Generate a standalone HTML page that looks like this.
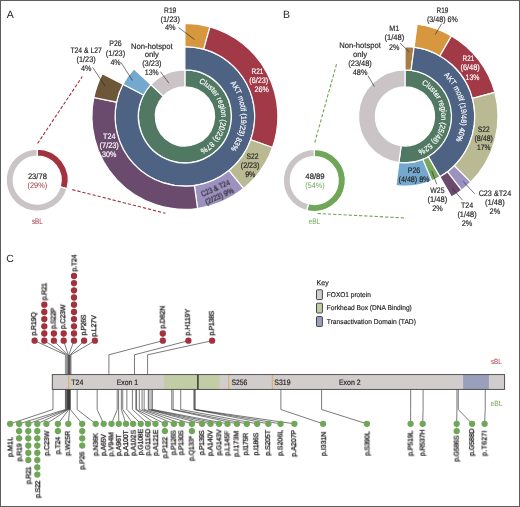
<!DOCTYPE html>
<html><head><meta charset="utf-8"><style>
html,body{margin:0;padding:0;background:#fff;}
body{width:520px;height:507px;overflow:hidden;}
svg{display:block;font-family:"Liberation Sans", sans-serif;-webkit-font-smoothing:antialiased;text-rendering:geometricPrecision;}
text{will-change:transform;}
</style></head><body>
<svg width="520" height="507" viewBox="0 0 520 507">
<rect x="0" y="0" width="520" height="507" fill="#fff"/>
<path d="M184.90,69.90 A46.5,46.5 0 1 1 150.92,84.66 L163.27,96.20 A29.6,29.6 0 1 0 184.90,86.80 Z" fill="#517863" stroke="#fff" stroke-width="1.2" stroke-linejoin="miter"/>
<path d="M150.92,84.66 A46.5,46.5 0 0 1 184.90,69.90 L184.90,86.80 A29.6,29.6 0 0 0 163.27,96.20 Z" fill="#cac4c7" stroke="#fff" stroke-width="1.2" stroke-linejoin="miter"/>
<path d="M184.90,46.60 A69.8,69.8 0 1 1 122.93,84.29 L143.61,95.01 A46.5,46.5 0 1 0 184.90,69.90 Z" fill="#4e6283" stroke="#fff" stroke-width="1.2" stroke-linejoin="miter"/>
<path d="M122.93,84.29 A69.8,69.8 0 0 1 133.89,68.76 L150.92,84.66 A46.5,46.5 0 0 0 143.61,95.01 Z" fill="#74a8cf" stroke="#fff" stroke-width="1.2" stroke-linejoin="miter"/>
<path d="M184.90,23.40 A93.0,93.0 0 0 1 209.99,26.85 L203.73,49.19 A69.8,69.8 0 0 0 184.90,46.60 Z" fill="#d6973e" stroke="#fff" stroke-width="1.2" stroke-linejoin="miter"/>
<path d="M209.99,26.85 A93.0,93.0 0 0 1 272.53,147.54 L250.67,139.77 A69.8,69.8 0 0 0 203.73,49.19 Z" fill="#a23946" stroke="#fff" stroke-width="1.2" stroke-linejoin="miter"/>
<path d="M272.53,147.54 A93.0,93.0 0 0 1 243.59,188.54 L228.95,170.54 A69.8,69.8 0 0 0 250.67,139.77 Z" fill="#b9ba93" stroke="#fff" stroke-width="1.2" stroke-linejoin="miter"/>
<path d="M243.59,188.54 A93.0,93.0 0 0 1 197.56,208.53 L194.40,185.55 A69.8,69.8 0 0 0 228.95,170.54 Z" fill="#9c92bf" stroke="#fff" stroke-width="1.2" stroke-linejoin="miter"/>
<path d="M197.56,208.53 A93.0,93.0 0 0 1 93.85,97.48 L116.56,102.20 A69.8,69.8 0 0 0 194.40,185.55 Z" fill="#6b4b6d" stroke="#fff" stroke-width="1.2" stroke-linejoin="miter"/>
<path d="M93.85,97.48 A93.0,93.0 0 0 1 102.33,73.61 L122.93,84.29 A69.8,69.8 0 0 0 116.56,102.20 Z" fill="#6e5738" stroke="#fff" stroke-width="1.2" stroke-linejoin="miter"/>
<path id="aA" d="M129.415,106.856 A56.3,56.3 0 0 1 189.572,60.294 A56.3,56.3 0 0 1 241.200,116.164 A56.3,56.3 0 0 1 190.042,172.465 A56.3,56.3 0 0 1 129.497,126.409" fill="none"/>
<text font-size="7.8" fill="#fff" stroke="#fff" stroke-width="0.18"><textPath href="#aA" startOffset="50%" text-anchor="middle" textLength="70.7" lengthAdjust="spacingAndGlyphs">AKT motif (19/23) 83%</textPath></text>
<path id="cA" d="M149.033,110.809 A36.3,36.3 0 0 1 187.344,80.182 A36.3,36.3 0 0 1 221.193,115.678 A36.3,36.3 0 0 1 188.783,152.492 A36.3,36.3 0 0 1 149.284,123.413" fill="none"/>
<text font-size="7.8" fill="#fff" stroke="#fff" stroke-width="0.18"><textPath href="#cA" startOffset="50%" text-anchor="middle" textLength="83.9" lengthAdjust="spacingAndGlyphs">Cluster region (20/23) 87%</textPath></text>
<text transform="translate(10.20,18.30)" font-size="10.5" fill="#231f20" stroke="#231f20" stroke-width="0" text-anchor="middle" font-weight="normal">A</text>
<text transform="translate(170.20,12.70)" font-size="8.0" fill="#231f20" stroke="#231f20" stroke-width="0.18" text-anchor="middle" font-weight="normal" textLength="12.3" lengthAdjust="spacingAndGlyphs">R19</text>
<text transform="translate(170.20,21.55)" font-size="8.0" fill="#231f20" stroke="#231f20" stroke-width="0.18" text-anchor="middle" font-weight="normal" textLength="19.5" lengthAdjust="spacingAndGlyphs">(1/23)</text>
<text transform="translate(170.20,30.40)" font-size="8.0" fill="#231f20" stroke="#231f20" stroke-width="0.18" text-anchor="middle" font-weight="normal" textLength="10.6" lengthAdjust="spacingAndGlyphs">4%</text>
<line x1="178.50" y1="27.50" x2="194.50" y2="39.50" stroke="#231f20" stroke-width="0.6"/>
<text transform="translate(86.10,52.50)" font-size="8.0" fill="#231f20" stroke="#231f20" stroke-width="0.18" text-anchor="middle" font-weight="normal" textLength="31.4" lengthAdjust="spacingAndGlyphs">T24 &amp; L27</text>
<text transform="translate(86.10,61.60)" font-size="8.0" fill="#231f20" stroke="#231f20" stroke-width="0.18" text-anchor="middle" font-weight="normal" textLength="19.1" lengthAdjust="spacingAndGlyphs">(1/23)</text>
<text transform="translate(86.10,70.70)" font-size="8.0" fill="#231f20" stroke="#231f20" stroke-width="0.18" text-anchor="middle" font-weight="normal" textLength="10.4" lengthAdjust="spacingAndGlyphs">4%</text>
<line x1="92.60" y1="67.30" x2="105.00" y2="86.00" stroke="#231f20" stroke-width="0.6"/>
<text transform="translate(115.50,46.40)" font-size="8.0" fill="#231f20" stroke="#231f20" stroke-width="0.18" text-anchor="middle" font-weight="normal" textLength="12.3" lengthAdjust="spacingAndGlyphs">P26</text>
<text transform="translate(115.50,55.50)" font-size="8.0" fill="#231f20" stroke="#231f20" stroke-width="0.18" text-anchor="middle" font-weight="normal" textLength="19.3" lengthAdjust="spacingAndGlyphs">(1/23)</text>
<text transform="translate(115.50,64.60)" font-size="8.0" fill="#231f20" stroke="#231f20" stroke-width="0.18" text-anchor="middle" font-weight="normal" textLength="10.2" lengthAdjust="spacingAndGlyphs">4%</text>
<line x1="121.10" y1="62.60" x2="132.50" y2="80.50" stroke="#231f20" stroke-width="0.6"/>
<text transform="translate(151.80,48.50)" font-size="8.0" fill="#231f20" stroke="#231f20" stroke-width="0.18" text-anchor="middle" font-weight="normal" textLength="41.8" lengthAdjust="spacingAndGlyphs">Non-hotspot</text>
<text transform="translate(151.80,57.45)" font-size="8.0" fill="#231f20" stroke="#231f20" stroke-width="0.18" text-anchor="middle" font-weight="normal" textLength="14.2" lengthAdjust="spacingAndGlyphs">only</text>
<text transform="translate(151.80,66.40)" font-size="8.0" fill="#231f20" stroke="#231f20" stroke-width="0.18" text-anchor="middle" font-weight="normal" textLength="19.3" lengthAdjust="spacingAndGlyphs">(3/23)</text>
<text transform="translate(151.80,75.35)" font-size="8.0" fill="#231f20" stroke="#231f20" stroke-width="0.18" text-anchor="middle" font-weight="normal" textLength="13.9" lengthAdjust="spacingAndGlyphs">13%</text>
<line x1="160.30" y1="71.60" x2="168.90" y2="83.20" stroke="#231f20" stroke-width="0.6"/>
<text transform="translate(257.50,73.70)" font-size="8.0" fill="#fff" stroke="#fff" stroke-width="0.18" text-anchor="middle" font-weight="normal" textLength="11.8" lengthAdjust="spacingAndGlyphs">R21</text>
<text transform="translate(258.80,82.90)" font-size="8.0" fill="#fff" stroke="#fff" stroke-width="0.18" text-anchor="middle" font-weight="normal" textLength="18.9" lengthAdjust="spacingAndGlyphs">(6/23)</text>
<text transform="translate(261.60,92.30)" font-size="8.0" fill="#fff" stroke="#fff" stroke-width="0.18" text-anchor="middle" font-weight="normal" textLength="14.3" lengthAdjust="spacingAndGlyphs">26%</text>
<text transform="translate(252.50,158.80)" font-size="8.0" fill="#231f20" stroke="#231f20" stroke-width="0.18" text-anchor="middle" font-weight="normal" textLength="11.9" lengthAdjust="spacingAndGlyphs">S22</text>
<text transform="translate(250.10,168.00)" font-size="8.0" fill="#231f20" stroke="#231f20" stroke-width="0.18" text-anchor="middle" font-weight="normal" textLength="18.6" lengthAdjust="spacingAndGlyphs">(2/23)</text>
<text transform="translate(250.30,177.30)" font-size="8.0" fill="#231f20" stroke="#231f20" stroke-width="0.18" text-anchor="middle" font-weight="normal" textLength="10.3" lengthAdjust="spacingAndGlyphs">9%</text>
<text transform="translate(109.20,138.70)" font-size="8.0" fill="#fff" stroke="#fff" stroke-width="0.18" text-anchor="middle" font-weight="normal" textLength="12.3" lengthAdjust="spacingAndGlyphs">T24</text>
<text transform="translate(109.20,147.90)" font-size="8.0" fill="#fff" stroke="#fff" stroke-width="0.18" text-anchor="middle" font-weight="normal" textLength="19.2" lengthAdjust="spacingAndGlyphs">(7/23)</text>
<text transform="translate(109.20,157.30)" font-size="8.0" fill="#fff" stroke="#fff" stroke-width="0.18" text-anchor="middle" font-weight="normal" textLength="14.3" lengthAdjust="spacingAndGlyphs">30%</text>
<text transform="translate(216.50,190.80) rotate(-24)" font-size="8.0" fill="#231f20" stroke="#231f20" stroke-width="0.18" text-anchor="middle" font-weight="normal" textLength="30.5" lengthAdjust="spacingAndGlyphs">C23 &amp; T24</text>
<text transform="translate(220.60,198.60) rotate(-24)" font-size="8.0" fill="#231f20" stroke="#231f20" stroke-width="0.18" text-anchor="middle" font-weight="normal" textLength="30.7" lengthAdjust="spacingAndGlyphs">(2/23) 9%</text>
<path d="M37.20,149.03 A31.075,31.075 0 0 1 67.05,188.75 L60.18,186.76 A23.925,23.925 0 0 0 37.20,156.17 Z" fill="#a3323f" stroke="#fff" stroke-width="1.3" stroke-linejoin="miter"/>
<path d="M67.05,188.75 A31.075,31.075 0 1 1 37.20,149.03 L37.20,156.17 A23.925,23.925 0 1 0 60.18,186.76 Z" fill="#cac4c7" stroke="#fff" stroke-width="1.3" stroke-linejoin="miter"/>
<text transform="translate(37.40,179.20)" font-size="8.0" fill="#231f20" stroke="#231f20" stroke-width="0.18" text-anchor="middle" font-weight="normal" textLength="19.0" lengthAdjust="spacingAndGlyphs">23/78</text>
<text transform="translate(37.40,188.00)" font-size="8.0" fill="#a3323f" stroke="#a3323f" stroke-width="0.0" text-anchor="middle" font-weight="normal" textLength="19.7" lengthAdjust="spacingAndGlyphs">(29%)</text>
<text transform="translate(37.30,224.00)" font-size="8.0" fill="#a3323f" stroke="#a3323f" stroke-width="0.0" text-anchor="middle" font-weight="normal" textLength="10.8" lengthAdjust="spacingAndGlyphs">sBL</text>
<line x1="37.60" y1="143.50" x2="82.30" y2="76.50" stroke="#a3323f" stroke-width="1.1" stroke-dasharray="3.3,1.9"/>
<line x1="72.30" y1="189.60" x2="165.50" y2="213.30" stroke="#a3323f" stroke-width="1.1" stroke-dasharray="3.3,1.9"/>
<path d="M405.00,69.90 A46.5,46.5 0 1 1 398.93,162.50 L401.14,145.75 A29.6,29.6 0 1 0 405.00,86.80 Z" fill="#517863" stroke="#fff" stroke-width="1.2" stroke-linejoin="miter"/>
<path d="M398.93,162.50 A46.5,46.5 0 0 1 405.00,69.90 L405.00,86.80 A29.6,29.6 0 0 0 401.14,145.75 Z" fill="#cac4c7" stroke="#fff" stroke-width="1.2" stroke-linejoin="miter"/>
<path d="M405.00,46.60 A69.8,69.8 0 0 1 414.11,47.20 L411.07,70.30 A46.5,46.5 0 0 0 405.00,69.90 Z" fill="#a87c45" stroke="#fff" stroke-width="1.2" stroke-linejoin="miter"/>
<path d="M414.11,47.20 A69.8,69.8 0 0 1 439.90,176.85 L428.25,156.67 A46.5,46.5 0 0 0 411.07,70.30 Z" fill="#4e6283" stroke="#fff" stroke-width="1.2" stroke-linejoin="miter"/>
<path d="M439.90,176.85 A69.8,69.8 0 0 1 431.71,180.89 L422.79,159.36 A46.5,46.5 0 0 0 428.25,156.67 Z" fill="#76a75d" stroke="#fff" stroke-width="1.2" stroke-linejoin="miter"/>
<path d="M431.71,180.89 A69.8,69.8 0 0 1 395.89,185.60 L398.93,162.50 A46.5,46.5 0 0 0 422.79,159.36 Z" fill="#74a8cf" stroke="#fff" stroke-width="1.2" stroke-linejoin="miter"/>
<path d="M417.14,24.20 A93.0,93.0 0 0 1 451.50,35.86 L439.90,55.95 A69.8,69.8 0 0 0 414.11,47.20 Z" fill="#d6973e" stroke="#fff" stroke-width="1.2" stroke-linejoin="miter"/>
<path d="M451.50,35.86 A93.0,93.0 0 0 1 494.83,92.33 L472.42,98.33 A69.8,69.8 0 0 0 439.90,55.95 Z" fill="#a23946" stroke="#fff" stroke-width="1.2" stroke-linejoin="miter"/>
<path d="M494.83,92.33 A93.0,93.0 0 0 1 470.76,182.16 L454.36,165.76 A69.8,69.8 0 0 0 472.42,98.33 Z" fill="#b9ba93" stroke="#fff" stroke-width="1.2" stroke-linejoin="miter"/>
<path d="M470.76,182.16 A93.0,93.0 0 0 1 461.61,190.18 L447.49,171.78 A69.8,69.8 0 0 0 454.36,165.76 Z" fill="#9c92bf" stroke="#fff" stroke-width="1.2" stroke-linejoin="miter"/>
<path d="M461.61,190.18 A93.0,93.0 0 0 1 451.50,196.94 L439.90,176.85 A69.8,69.8 0 0 0 447.49,171.78 Z" fill="#6b4b6d" stroke="#fff" stroke-width="1.2" stroke-linejoin="miter"/>
<path id="aB" d="M348.704,117.098 A56.3,56.3 0 0 1 399.399,60.379 A56.3,56.3 0 0 1 460.319,105.937 A56.3,56.3 0 0 1 420.244,170.597 A56.3,56.3 0 0 1 352.338,136.310" fill="none"/>
<text font-size="7.8" fill="#fff" stroke="#fff" stroke-width="0.18"><textPath href="#aB" startOffset="50%" text-anchor="middle" textLength="70.7" lengthAdjust="spacingAndGlyphs">AKT motif (19/48) 40%</textPath></text>
<path id="cB" d="M369.646,108.166 A36.3,36.3 0 0 1 410.121,80.463 A36.3,36.3 0 0 1 441.247,118.369 A36.3,36.3 0 0 1 406.197,152.680 A36.3,36.3 0 0 1 368.962,120.755" fill="none"/>
<text font-size="7.8" fill="#fff" stroke="#fff" stroke-width="0.18"><textPath href="#cB" startOffset="50%" text-anchor="middle" textLength="83.5" lengthAdjust="spacingAndGlyphs">Cluster region (25/48) 52%</textPath></text>
<text transform="translate(286.60,18.30)" font-size="10.5" fill="#231f20" stroke="#231f20" stroke-width="0" text-anchor="middle" font-weight="normal">B</text>
<text transform="translate(442.40,12.70)" font-size="8.0" fill="#231f20" stroke="#231f20" stroke-width="0.18" text-anchor="middle" font-weight="normal" textLength="11.8" lengthAdjust="spacingAndGlyphs">R19</text>
<text transform="translate(442.40,21.80)" font-size="8.0" fill="#231f20" stroke="#231f20" stroke-width="0.18" text-anchor="middle" font-weight="normal" textLength="30.9" lengthAdjust="spacingAndGlyphs">(3/48) 6%</text>
<line x1="441.70" y1="23.60" x2="435.20" y2="34.50" stroke="#231f20" stroke-width="0.6"/>
<text transform="translate(394.30,31.10)" font-size="8.0" fill="#231f20" stroke="#231f20" stroke-width="0.18" text-anchor="middle" font-weight="normal" textLength="9.9" lengthAdjust="spacingAndGlyphs">M1</text>
<text transform="translate(394.30,40.30)" font-size="8.0" fill="#231f20" stroke="#231f20" stroke-width="0.18" text-anchor="middle" font-weight="normal" textLength="19.7" lengthAdjust="spacingAndGlyphs">(1/48)</text>
<text transform="translate(394.30,49.50)" font-size="8.0" fill="#231f20" stroke="#231f20" stroke-width="0.18" text-anchor="middle" font-weight="normal" textLength="10.4" lengthAdjust="spacingAndGlyphs">2%</text>
<line x1="400.10" y1="43.10" x2="409.30" y2="52.00" stroke="#231f20" stroke-width="0.6"/>
<text transform="translate(360.10,47.70)" font-size="8.0" fill="#231f20" stroke="#231f20" stroke-width="0.18" text-anchor="middle" font-weight="normal" textLength="41.5" lengthAdjust="spacingAndGlyphs">Non-hotspot</text>
<text transform="translate(360.10,56.65)" font-size="8.0" fill="#231f20" stroke="#231f20" stroke-width="0.18" text-anchor="middle" font-weight="normal" textLength="14.3" lengthAdjust="spacingAndGlyphs">only</text>
<text transform="translate(360.10,65.60)" font-size="8.0" fill="#231f20" stroke="#231f20" stroke-width="0.18" text-anchor="middle" font-weight="normal" textLength="23.5" lengthAdjust="spacingAndGlyphs">(23/48)</text>
<text transform="translate(360.10,74.55)" font-size="8.0" fill="#231f20" stroke="#231f20" stroke-width="0.18" text-anchor="middle" font-weight="normal" textLength="14.7" lengthAdjust="spacingAndGlyphs">48%</text>
<line x1="368.10" y1="75.80" x2="374.30" y2="86.50" stroke="#231f20" stroke-width="0.6"/>
<text transform="translate(468.40,61.30)" font-size="8.0" fill="#fff" stroke="#fff" stroke-width="0.18" text-anchor="middle" font-weight="normal" textLength="11.7" lengthAdjust="spacingAndGlyphs">R21</text>
<text transform="translate(470.10,70.40)" font-size="8.0" fill="#fff" stroke="#fff" stroke-width="0.18" text-anchor="middle" font-weight="normal" textLength="19.4" lengthAdjust="spacingAndGlyphs">(6/48)</text>
<text transform="translate(472.50,79.60)" font-size="8.0" fill="#fff" stroke="#fff" stroke-width="0.18" text-anchor="middle" font-weight="normal" textLength="13.8" lengthAdjust="spacingAndGlyphs">13%</text>
<text transform="translate(483.70,132.20)" font-size="8.0" fill="#231f20" stroke="#231f20" stroke-width="0.18" text-anchor="middle" font-weight="normal" textLength="11.7" lengthAdjust="spacingAndGlyphs">S22</text>
<text transform="translate(483.70,141.00)" font-size="8.0" fill="#231f20" stroke="#231f20" stroke-width="0.18" text-anchor="middle" font-weight="normal" textLength="18.4" lengthAdjust="spacingAndGlyphs">(8/48)</text>
<text transform="translate(483.70,149.80)" font-size="8.0" fill="#231f20" stroke="#231f20" stroke-width="0.18" text-anchor="middle" font-weight="normal" textLength="13.3" lengthAdjust="spacingAndGlyphs">17%</text>
<text transform="translate(414.00,172.70)" font-size="8.0" fill="#231f20" stroke="#231f20" stroke-width="0.18" text-anchor="middle" font-weight="normal" textLength="12.6" lengthAdjust="spacingAndGlyphs">P26</text>
<text transform="translate(414.00,181.70)" font-size="8.0" fill="#231f20" stroke="#231f20" stroke-width="0.18" text-anchor="middle" font-weight="normal" textLength="30.9" lengthAdjust="spacingAndGlyphs">(4/48) 8%</text>
<text transform="translate(437.40,192.60)" font-size="8.0" fill="#231f20" stroke="#231f20" stroke-width="0.18" text-anchor="middle" font-weight="normal" textLength="14.2" lengthAdjust="spacingAndGlyphs">W25</text>
<text transform="translate(437.40,201.90)" font-size="8.0" fill="#231f20" stroke="#231f20" stroke-width="0.18" text-anchor="middle" font-weight="normal" textLength="19.7" lengthAdjust="spacingAndGlyphs">(1/48)</text>
<text transform="translate(437.40,211.30)" font-size="8.0" fill="#231f20" stroke="#231f20" stroke-width="0.18" text-anchor="middle" font-weight="normal" textLength="10.5" lengthAdjust="spacingAndGlyphs">2%</text>
<line x1="431.70" y1="170.80" x2="436.80" y2="184.40" stroke="#231f20" stroke-width="0.6"/>
<text transform="translate(467.00,208.00)" font-size="8.0" fill="#231f20" stroke="#231f20" stroke-width="0.18" text-anchor="middle" font-weight="normal" textLength="12.2" lengthAdjust="spacingAndGlyphs">T24</text>
<text transform="translate(467.00,217.20)" font-size="8.0" fill="#231f20" stroke="#231f20" stroke-width="0.18" text-anchor="middle" font-weight="normal" textLength="19.2" lengthAdjust="spacingAndGlyphs">(1/48)</text>
<text transform="translate(467.00,226.30)" font-size="8.0" fill="#231f20" stroke="#231f20" stroke-width="0.18" text-anchor="middle" font-weight="normal" textLength="10.6" lengthAdjust="spacingAndGlyphs">2%</text>
<line x1="452.40" y1="188.30" x2="462.50" y2="200.20" stroke="#231f20" stroke-width="0.6"/>
<text transform="translate(494.90,196.00)" font-size="8.0" fill="#231f20" stroke="#231f20" stroke-width="0.18" text-anchor="middle" font-weight="normal" textLength="32.5" lengthAdjust="spacingAndGlyphs">C23 &amp;T24</text>
<text transform="translate(494.90,205.10)" font-size="8.0" fill="#231f20" stroke="#231f20" stroke-width="0.18" text-anchor="middle" font-weight="normal" textLength="19.7" lengthAdjust="spacingAndGlyphs">(1/48)</text>
<text transform="translate(494.90,214.20)" font-size="8.0" fill="#231f20" stroke="#231f20" stroke-width="0.18" text-anchor="middle" font-weight="normal" textLength="10.6" lengthAdjust="spacingAndGlyphs">2%</text>
<line x1="463.00" y1="181.30" x2="474.70" y2="193.80" stroke="#231f20" stroke-width="0.6"/>
<path d="M314.30,149.43 A31.075,31.075 0 1 1 306.70,210.63 L308.45,203.70 A23.925,23.925 0 1 0 314.30,156.57 Z" fill="#6fa658" stroke="#fff" stroke-width="1.3" stroke-linejoin="miter"/>
<path d="M306.70,210.63 A31.075,31.075 0 0 1 314.30,149.43 L314.30,156.57 A23.925,23.925 0 0 0 308.45,203.70 Z" fill="#cac4c7" stroke="#fff" stroke-width="1.3" stroke-linejoin="miter"/>
<text transform="translate(315.00,179.40)" font-size="8.0" fill="#231f20" stroke="#231f20" stroke-width="0.18" text-anchor="middle" font-weight="normal" textLength="19.3" lengthAdjust="spacingAndGlyphs">48/89</text>
<text transform="translate(315.00,188.20)" font-size="8.0" fill="#6fa658" stroke="#6fa658" stroke-width="0.0" text-anchor="middle" font-weight="normal" textLength="19.3" lengthAdjust="spacingAndGlyphs">(54%)</text>
<text transform="translate(314.40,224.00)" font-size="8.0" fill="#6fa658" stroke="#6fa658" stroke-width="0.0" text-anchor="middle" font-weight="normal" textLength="11.8" lengthAdjust="spacingAndGlyphs">eBL</text>
<line x1="314.80" y1="142.50" x2="336.50" y2="64.20" stroke="#6fa658" stroke-width="1.1" stroke-dasharray="3.3,1.9"/>
<line x1="317.50" y1="213.50" x2="406.00" y2="218.00" stroke="#6fa658" stroke-width="1.1" stroke-dasharray="3.3,1.9"/>
<text transform="translate(10.00,262.30)" font-size="10.5" fill="#231f20" stroke="#231f20" stroke-width="0" text-anchor="middle" font-weight="normal">C</text>
<polyline points="65.42,374.60 65.42,354.8 34.60,340.7" fill="none" stroke="#333" stroke-width="0.65"/>
<polyline points="66.80,374.60 66.80,354.8 44.30,340.7" fill="none" stroke="#333" stroke-width="0.65"/>
<polyline points="67.49,374.60 67.49,354.8 53.90,340.7" fill="none" stroke="#333" stroke-width="0.65"/>
<polyline points="68.18,374.60 68.18,354.8 63.70,340.7" fill="none" stroke="#333" stroke-width="0.65"/>
<polyline points="68.87,374.60 68.87,354.8 74.00,340.7" fill="none" stroke="#333" stroke-width="0.65"/>
<polyline points="70.25,374.60 70.25,354.8 84.10,340.7" fill="none" stroke="#333" stroke-width="0.65"/>
<polyline points="70.94,374.60 70.94,354.8 94.90,340.7" fill="none" stroke="#333" stroke-width="0.65"/>
<polyline points="108.92,374.60 108.92,354.8 162.80,340.7" fill="none" stroke="#333" stroke-width="0.65"/>
<polyline points="134.47,374.60 134.47,354.8 188.40,340.7" fill="none" stroke="#333" stroke-width="0.65"/>
<polyline points="147.59,374.60 147.59,354.8 212.10,340.7" fill="none" stroke="#333" stroke-width="0.65"/>
<rect x="65.2" y="354.8" width="5.2" height="19.80" fill="#9a9a9a"/>
<rect x="67.7" y="354.8" width="2.5" height="19.80" fill="#555"/>
<rect x="65.2" y="389.4" width="5.2" height="20.10" fill="#9a9a9a"/>
<rect x="67.7" y="389.4" width="2.5" height="20.10" fill="#555"/>
<polyline points="52.99,389.40 52.99,409.5 10.10,423.8" fill="none" stroke="#333" stroke-width="0.65"/>
<polyline points="65.42,389.40 65.42,409.5 19.10,423.8" fill="none" stroke="#333" stroke-width="0.65"/>
<polyline points="66.80,389.40 66.80,409.5 28.30,423.8" fill="none" stroke="#333" stroke-width="0.65"/>
<polyline points="67.49,389.40 67.49,409.5 37.30,423.8" fill="none" stroke="#333" stroke-width="0.65"/>
<polyline points="68.18,389.40 68.18,409.5 46.40,423.8" fill="none" stroke="#333" stroke-width="0.65"/>
<polyline points="68.87,389.40 68.87,409.5 57.90,423.8" fill="none" stroke="#333" stroke-width="0.65"/>
<polyline points="69.56,389.40 69.56,409.5 68.30,423.8" fill="none" stroke="#333" stroke-width="0.65"/>
<polyline points="70.25,389.40 70.25,409.5 82.20,423.8" fill="none" stroke="#333" stroke-width="0.65"/>
<polyline points="77.16,389.40 77.16,409.5 95.70,423.8" fill="none" stroke="#333" stroke-width="0.65"/>
<polyline points="97.18,389.40 97.18,409.5 103.70,423.8" fill="none" stroke="#333" stroke-width="0.65"/>
<polyline points="117.21,389.40 117.21,409.5 111.50,423.8" fill="none" stroke="#333" stroke-width="0.65"/>
<polyline points="118.59,389.40 118.59,409.5 118.80,423.8" fill="none" stroke="#333" stroke-width="0.65"/>
<polyline points="121.35,389.40 121.35,409.5 126.00,423.8" fill="none" stroke="#333" stroke-width="0.65"/>
<polyline points="122.73,389.40 122.73,409.5 133.10,423.8" fill="none" stroke="#333" stroke-width="0.65"/>
<polyline points="126.87,389.40 126.87,409.5 140.70,423.8" fill="none" stroke="#333" stroke-width="0.65"/>
<polyline points="132.40,389.40 132.40,409.5 148.00,423.8" fill="none" stroke="#333" stroke-width="0.65"/>
<polyline points="135.85,389.40 135.85,409.5 155.50,423.8" fill="none" stroke="#333" stroke-width="0.65"/>
<polyline points="136.54,389.40 136.54,409.5 164.90,423.8" fill="none" stroke="#333" stroke-width="0.65"/>
<polyline points="139.30,389.40 139.30,409.5 173.90,423.8" fill="none" stroke="#333" stroke-width="0.65"/>
<polyline points="142.06,389.40 142.06,409.5 181.80,423.8" fill="none" stroke="#333" stroke-width="0.65"/>
<polyline points="144.14,389.40 144.14,409.5 191.90,423.8" fill="none" stroke="#333" stroke-width="0.65"/>
<polyline points="148.28,389.40 148.28,409.5 202.10,423.8" fill="none" stroke="#333" stroke-width="0.65"/>
<polyline points="148.97,389.40 148.97,409.5 210.50,423.8" fill="none" stroke="#333" stroke-width="0.65"/>
<polyline points="151.04,389.40 151.04,409.5 219.00,423.8" fill="none" stroke="#333" stroke-width="0.65"/>
<polyline points="152.42,389.40 152.42,409.5 227.50,423.8" fill="none" stroke="#333" stroke-width="0.65"/>
<polyline points="171.76,389.40 171.76,409.5 237.00,423.8" fill="none" stroke="#333" stroke-width="0.65"/>
<polyline points="173.14,389.40 173.14,409.5 246.80,423.8" fill="none" stroke="#333" stroke-width="0.65"/>
<polyline points="180.73,389.40 180.73,409.5 257.20,423.8" fill="none" stroke="#333" stroke-width="0.65"/>
<polyline points="193.85,389.40 193.85,409.5 268.40,423.8" fill="none" stroke="#333" stroke-width="0.65"/>
<polyline points="194.54,389.40 194.54,409.5 280.60,423.8" fill="none" stroke="#333" stroke-width="0.65"/>
<polyline points="195.23,389.40 195.23,409.5 294.40,423.8" fill="none" stroke="#333" stroke-width="0.65"/>
<polyline points="280.86,389.40 280.86,409.5 323.10,423.8" fill="none" stroke="#333" stroke-width="0.65"/>
<polyline points="321.60,389.40 321.60,409.5 366.90,423.8" fill="none" stroke="#333" stroke-width="0.65"/>
<polyline points="410.67,389.40 410.67,409.5 410.60,423.8" fill="none" stroke="#333" stroke-width="0.65"/>
<polyline points="423.10,389.40 423.10,409.5 422.70,423.8" fill="none" stroke="#333" stroke-width="0.65"/>
<polyline points="456.93,389.40 456.93,409.5 456.70,423.8" fill="none" stroke="#333" stroke-width="0.65"/>
<polyline points="458.31,389.40 458.31,409.5 472.10,423.8" fill="none" stroke="#333" stroke-width="0.65"/>
<polyline points="485.24,389.40 485.24,409.5 484.60,423.8" fill="none" stroke="#333" stroke-width="0.65"/>
<rect x="52.3" y="374.6" width="452.30" height="14.80" fill="#d2cdcd"/>
<rect x="163.8" y="374.6" width="55.80" height="14.80" fill="#c2cda6"/>
<rect x="463.1" y="374.6" width="25.80" height="14.80" fill="#9aa0bc"/>
<line x1="68.70" y1="374.60" x2="68.70" y2="389.40" stroke="#e8a53e" stroke-width="0.9"/>
<line x1="228.80" y1="374.60" x2="228.80" y2="389.40" stroke="#e8a53e" stroke-width="0.9"/>
<line x1="272.30" y1="374.60" x2="272.30" y2="389.40" stroke="#e8a53e" stroke-width="0.9"/>
<line x1="197.90" y1="374.60" x2="197.90" y2="389.40" stroke="#1e1e1e" stroke-width="1.3"/>
<rect x="52.3" y="374.6" width="452.30" height="14.80" fill="none" stroke="#444" stroke-width="0.9"/>
<text transform="translate(77.25,385.00)" font-size="7.8" fill="#231f20" stroke="#231f20" stroke-width="0.18" text-anchor="middle" font-weight="normal" textLength="12.0" lengthAdjust="spacingAndGlyphs">T24</text>
<text transform="translate(127.30,385.00)" font-size="7.8" fill="#231f20" stroke="#231f20" stroke-width="0.18" text-anchor="middle" font-weight="normal" textLength="21.3" lengthAdjust="spacingAndGlyphs">Exon 1</text>
<text transform="translate(239.40,385.00)" font-size="7.8" fill="#231f20" stroke="#231f20" stroke-width="0.18" text-anchor="middle" font-weight="normal" textLength="15.9" lengthAdjust="spacingAndGlyphs">S256</text>
<text transform="translate(282.45,385.00)" font-size="7.8" fill="#231f20" stroke="#231f20" stroke-width="0.18" text-anchor="middle" font-weight="normal" textLength="16.2" lengthAdjust="spacingAndGlyphs">S319</text>
<text transform="translate(349.75,385.00)" font-size="7.8" fill="#231f20" stroke="#231f20" stroke-width="0.18" text-anchor="middle" font-weight="normal" textLength="21.6" lengthAdjust="spacingAndGlyphs">Exon 2</text>
<text transform="translate(496.35,363.80)" font-size="7.5" fill="#a3323f" stroke="#a3323f" stroke-width="0.0" text-anchor="middle" font-weight="normal" textLength="10.8" lengthAdjust="spacingAndGlyphs">sBL</text>
<text transform="translate(496.55,405.50)" font-size="7.5" fill="#6fa658" stroke="#6fa658" stroke-width="0.0" text-anchor="middle" font-weight="normal" textLength="12.0" lengthAdjust="spacingAndGlyphs">eBL</text>
<circle cx="34.6" cy="340.70" r="3.15" fill="#a3323f"/>
<text transform="translate(35.90,323.75) rotate(-90)" font-size="7.0" fill="#231f20" stroke="#231f20" stroke-width="0.3" text-anchor="middle" textLength="23.4" lengthAdjust="spacing">p.R19Q</text>
<line x1="44.30" y1="340.70" x2="44.30" y2="304.70" stroke="#888" stroke-width="0.5"/>
<circle cx="44.3" cy="340.70" r="3.15" fill="#a3323f"/>
<circle cx="44.3" cy="333.50" r="3.15" fill="#a3323f"/>
<circle cx="44.3" cy="326.30" r="3.15" fill="#a3323f"/>
<circle cx="44.3" cy="319.10" r="3.15" fill="#a3323f"/>
<circle cx="44.3" cy="311.90" r="3.15" fill="#a3323f"/>
<circle cx="44.3" cy="304.70" r="3.15" fill="#a3323f"/>
<text transform="translate(46.45,291.55) rotate(-90)" font-size="7.0" fill="#231f20" stroke="#231f20" stroke-width="0.3" text-anchor="middle" textLength="17.4" lengthAdjust="spacing">p.R21</text>
<line x1="53.90" y1="340.70" x2="53.90" y2="333.50" stroke="#888" stroke-width="0.5"/>
<circle cx="53.9" cy="340.70" r="3.15" fill="#a3323f"/>
<circle cx="53.9" cy="333.50" r="3.15" fill="#a3323f"/>
<text transform="translate(55.55,318.55) rotate(-90)" font-size="7.0" fill="#231f20" stroke="#231f20" stroke-width="0.3" text-anchor="middle" textLength="21.2" lengthAdjust="spacing">p.S22P</text>
<line x1="63.70" y1="340.70" x2="63.70" y2="333.50" stroke="#888" stroke-width="0.5"/>
<circle cx="63.7" cy="340.70" r="3.15" fill="#a3323f"/>
<circle cx="63.7" cy="333.50" r="3.15" fill="#a3323f"/>
<text transform="translate(65.15,316.80) rotate(-90)" font-size="7.0" fill="#231f20" stroke="#231f20" stroke-width="0.3" text-anchor="middle" textLength="24.7" lengthAdjust="spacing">p.C23W</text>
<line x1="74.00" y1="340.70" x2="74.00" y2="275.90" stroke="#888" stroke-width="0.5"/>
<circle cx="74.0" cy="340.70" r="3.15" fill="#a3323f"/>
<circle cx="74.0" cy="333.50" r="3.15" fill="#a3323f"/>
<circle cx="74.0" cy="326.30" r="3.15" fill="#a3323f"/>
<circle cx="74.0" cy="319.10" r="3.15" fill="#a3323f"/>
<circle cx="74.0" cy="311.90" r="3.15" fill="#a3323f"/>
<circle cx="74.0" cy="304.70" r="3.15" fill="#a3323f"/>
<circle cx="74.0" cy="297.50" r="3.15" fill="#a3323f"/>
<circle cx="74.0" cy="290.30" r="3.15" fill="#a3323f"/>
<circle cx="74.0" cy="283.10" r="3.15" fill="#a3323f"/>
<circle cx="74.0" cy="275.90" r="3.15" fill="#a3323f"/>
<text transform="translate(76.45,263.20) rotate(-90)" font-size="7.0" fill="#231f20" stroke="#231f20" stroke-width="0.3" text-anchor="middle" textLength="17.1" lengthAdjust="spacing">p.T24</text>
<circle cx="84.1" cy="340.70" r="3.15" fill="#a3323f"/>
<text transform="translate(85.75,325.00) rotate(-90)" font-size="7.0" fill="#231f20" stroke="#231f20" stroke-width="0.3" text-anchor="middle" textLength="20.9" lengthAdjust="spacing">p.P26S</text>
<circle cx="94.9" cy="340.70" r="3.15" fill="#a3323f"/>
<text transform="translate(96.15,326.05) rotate(-90)" font-size="7.0" fill="#231f20" stroke="#231f20" stroke-width="0.3" text-anchor="middle" textLength="21.6" lengthAdjust="spacing">p.L27V</text>
<line x1="162.80" y1="340.70" x2="162.80" y2="333.50" stroke="#888" stroke-width="0.5"/>
<circle cx="162.8" cy="340.70" r="3.15" fill="#a3323f"/>
<circle cx="162.8" cy="333.50" r="3.15" fill="#a3323f"/>
<text transform="translate(164.65,317.30) rotate(-90)" font-size="7.0" fill="#231f20" stroke="#231f20" stroke-width="0.3" text-anchor="middle" textLength="23.1" lengthAdjust="spacing">p.D82N</text>
<circle cx="188.4" cy="340.70" r="3.15" fill="#a3323f"/>
<text transform="translate(189.75,322.25) rotate(-90)" font-size="7.0" fill="#231f20" stroke="#231f20" stroke-width="0.3" text-anchor="middle" textLength="26.8" lengthAdjust="spacing">p.H119Y</text>
<circle cx="212.1" cy="340.70" r="3.15" fill="#a3323f"/>
<text transform="translate(213.75,323.15) rotate(-90)" font-size="7.0" fill="#231f20" stroke="#231f20" stroke-width="0.3" text-anchor="middle" textLength="25.0" lengthAdjust="spacing">p.P138S</text>
<circle cx="10.1" cy="423.80" r="3.15" fill="#6fa658"/>
<text transform="translate(12.45,447.00) rotate(-90)" font-size="7.0" fill="#231f20" stroke="#231f20" stroke-width="0.3" text-anchor="middle" textLength="20.1" lengthAdjust="spacing">p.M1L</text>
<line x1="19.10" y1="423.80" x2="19.10" y2="438.30" stroke="#888" stroke-width="0.5"/>
<circle cx="19.1" cy="423.80" r="3.15" fill="#6fa658"/>
<circle cx="19.1" cy="431.05" r="3.15" fill="#6fa658"/>
<circle cx="19.1" cy="438.30" r="3.15" fill="#6fa658"/>
<text transform="translate(21.55,452.40) rotate(-90)" font-size="7.0" fill="#231f20" stroke="#231f20" stroke-width="0.3" text-anchor="middle" textLength="17.9" lengthAdjust="spacing">p.R19</text>
<line x1="28.30" y1="423.80" x2="28.30" y2="460.05" stroke="#888" stroke-width="0.5"/>
<circle cx="28.3" cy="423.80" r="3.15" fill="#6fa658"/>
<circle cx="28.3" cy="431.05" r="3.15" fill="#6fa658"/>
<circle cx="28.3" cy="438.30" r="3.15" fill="#6fa658"/>
<circle cx="28.3" cy="445.55" r="3.15" fill="#6fa658"/>
<circle cx="28.3" cy="452.80" r="3.15" fill="#6fa658"/>
<circle cx="28.3" cy="460.05" r="3.15" fill="#6fa658"/>
<text transform="translate(30.65,475.40) rotate(-90)" font-size="7.0" fill="#231f20" stroke="#231f20" stroke-width="0.3" text-anchor="middle" textLength="17.3" lengthAdjust="spacing">p.R21</text>
<line x1="37.30" y1="423.80" x2="37.30" y2="474.55" stroke="#888" stroke-width="0.5"/>
<circle cx="37.3" cy="423.80" r="3.15" fill="#6fa658"/>
<circle cx="37.3" cy="431.05" r="3.15" fill="#6fa658"/>
<circle cx="37.3" cy="438.30" r="3.15" fill="#6fa658"/>
<circle cx="37.3" cy="445.55" r="3.15" fill="#6fa658"/>
<circle cx="37.3" cy="452.80" r="3.15" fill="#6fa658"/>
<circle cx="37.3" cy="460.05" r="3.15" fill="#6fa658"/>
<circle cx="37.3" cy="467.30" r="3.15" fill="#6fa658"/>
<circle cx="37.3" cy="474.55" r="3.15" fill="#6fa658"/>
<text transform="translate(40.05,489.30) rotate(-90)" font-size="7.0" fill="#231f20" stroke="#231f20" stroke-width="0.3" text-anchor="middle" textLength="17.5" lengthAdjust="spacing">p.S22</text>
<circle cx="46.4" cy="423.80" r="3.15" fill="#6fa658"/>
<text transform="translate(49.05,443.40) rotate(-90)" font-size="7.0" fill="#231f20" stroke="#231f20" stroke-width="0.3" text-anchor="middle" textLength="25.1" lengthAdjust="spacing">p.C23W</text>
<line x1="57.90" y1="423.80" x2="57.90" y2="431.05" stroke="#888" stroke-width="0.5"/>
<circle cx="57.9" cy="423.80" r="3.15" fill="#6fa658"/>
<circle cx="57.9" cy="431.05" r="3.15" fill="#6fa658"/>
<text transform="translate(60.15,445.50) rotate(-90)" font-size="7.0" fill="#231f20" stroke="#231f20" stroke-width="0.3" text-anchor="middle" textLength="17.3" lengthAdjust="spacing">p.T24</text>
<circle cx="68.3" cy="423.80" r="3.15" fill="#6fa658"/>
<text transform="translate(69.85,443.40) rotate(-90)" font-size="7.0" fill="#231f20" stroke="#231f20" stroke-width="0.3" text-anchor="middle" textLength="25.1" lengthAdjust="spacing">p.W25R</text>
<line x1="82.20" y1="423.80" x2="82.20" y2="445.55" stroke="#888" stroke-width="0.5"/>
<circle cx="82.2" cy="423.80" r="3.15" fill="#6fa658"/>
<circle cx="82.2" cy="431.05" r="3.15" fill="#6fa658"/>
<circle cx="82.2" cy="438.30" r="3.15" fill="#6fa658"/>
<circle cx="82.2" cy="445.55" r="3.15" fill="#6fa658"/>
<text transform="translate(84.35,460.65) rotate(-90)" font-size="7.0" fill="#231f20" stroke="#231f20" stroke-width="0.3" text-anchor="middle" textLength="18.0" lengthAdjust="spacing">p.P26</text>
<circle cx="95.7" cy="423.80" r="3.15" fill="#6fa658"/>
<text transform="translate(97.85,444.50) rotate(-90)" font-size="7.0" fill="#231f20" stroke="#231f20" stroke-width="0.3" text-anchor="middle" textLength="22.9" lengthAdjust="spacing">p.N36K</text>
<circle cx="103.7" cy="423.80" r="3.15" fill="#6fa658"/>
<text transform="translate(105.75,444.95) rotate(-90)" font-size="7.0" fill="#231f20" stroke="#231f20" stroke-width="0.3" text-anchor="middle" textLength="22.0" lengthAdjust="spacing">p.A65V</text>
<circle cx="111.5" cy="423.80" r="3.15" fill="#6fa658"/>
<text transform="translate(113.35,444.30) rotate(-90)" font-size="7.0" fill="#231f20" stroke="#231f20" stroke-width="0.3" text-anchor="middle" textLength="24.3" lengthAdjust="spacing">p.V94M</text>
<circle cx="118.8" cy="423.80" r="3.15" fill="#6fa658"/>
<text transform="translate(120.85,445.05) rotate(-90)" font-size="7.0" fill="#231f20" stroke="#231f20" stroke-width="0.3" text-anchor="middle" textLength="21.8" lengthAdjust="spacing">p.A96T</text>
<circle cx="126.0" cy="423.80" r="3.15" fill="#6fa658"/>
<text transform="translate(127.95,443.05) rotate(-90)" font-size="7.0" fill="#231f20" stroke="#231f20" stroke-width="0.3" text-anchor="middle" textLength="25.8" lengthAdjust="spacing">p.A100T</text>
<circle cx="133.1" cy="423.80" r="3.15" fill="#6fa658"/>
<text transform="translate(135.65,442.90) rotate(-90)" font-size="7.0" fill="#231f20" stroke="#231f20" stroke-width="0.3" text-anchor="middle" textLength="26.1" lengthAdjust="spacing">p.A102S</text>
<circle cx="140.7" cy="423.80" r="3.15" fill="#6fa658"/>
<text transform="translate(142.75,442.00) rotate(-90)" font-size="7.0" fill="#231f20" stroke="#231f20" stroke-width="0.3" text-anchor="middle" textLength="26.5" lengthAdjust="spacing">p.G108E</text>
<circle cx="148.0" cy="423.80" r="3.15" fill="#6fa658"/>
<text transform="translate(150.15,442.35) rotate(-90)" font-size="7.0" fill="#231f20" stroke="#231f20" stroke-width="0.3" text-anchor="middle" textLength="27.2" lengthAdjust="spacing">p.G116D</text>
<circle cx="155.5" cy="423.80" r="3.15" fill="#6fa658"/>
<text transform="translate(157.85,442.70) rotate(-90)" font-size="7.0" fill="#231f20" stroke="#231f20" stroke-width="0.3" text-anchor="middle" textLength="26.5" lengthAdjust="spacing">p.A121E</text>
<line x1="164.90" y1="423.80" x2="164.90" y2="431.05" stroke="#888" stroke-width="0.5"/>
<circle cx="164.9" cy="423.80" r="3.15" fill="#6fa658"/>
<circle cx="164.9" cy="431.05" r="3.15" fill="#6fa658"/>
<text transform="translate(167.25,447.55) rotate(-90)" font-size="7.0" fill="#231f20" stroke="#231f20" stroke-width="0.3" text-anchor="middle" textLength="21.4" lengthAdjust="spacing">p.P122</text>
<circle cx="173.9" cy="423.80" r="3.15" fill="#6fa658"/>
<text transform="translate(175.65,442.65) rotate(-90)" font-size="7.0" fill="#231f20" stroke="#231f20" stroke-width="0.3" text-anchor="middle" textLength="25.0" lengthAdjust="spacing">p.P126S</text>
<circle cx="181.8" cy="423.80" r="3.15" fill="#6fa658"/>
<text transform="translate(183.25,442.65) rotate(-90)" font-size="7.0" fill="#231f20" stroke="#231f20" stroke-width="0.3" text-anchor="middle" textLength="25.0" lengthAdjust="spacing">p.P130S</text>
<line x1="191.90" y1="423.80" x2="191.90" y2="431.05" stroke="#888" stroke-width="0.5"/>
<circle cx="191.9" cy="423.80" r="3.15" fill="#6fa658"/>
<circle cx="191.9" cy="431.05" r="3.15" fill="#6fa658"/>
<text transform="translate(193.65,448.55) rotate(-90)" font-size="7.0" fill="#231f20" stroke="#231f20" stroke-width="0.3" text-anchor="middle" textLength="24.8" lengthAdjust="spacing">p.Q133*</text>
<circle cx="202.1" cy="423.80" r="3.15" fill="#6fa658"/>
<text transform="translate(203.95,442.65) rotate(-90)" font-size="7.0" fill="#231f20" stroke="#231f20" stroke-width="0.3" text-anchor="middle" textLength="25.0" lengthAdjust="spacing">p.P139S</text>
<circle cx="210.5" cy="423.80" r="3.15" fill="#6fa658"/>
<text transform="translate(212.45,443.05) rotate(-90)" font-size="7.0" fill="#231f20" stroke="#231f20" stroke-width="0.3" text-anchor="middle" textLength="25.8" lengthAdjust="spacing">p.A140V</text>
<circle cx="219.0" cy="423.80" r="3.15" fill="#6fa658"/>
<text transform="translate(221.25,442.50) rotate(-90)" font-size="7.0" fill="#231f20" stroke="#231f20" stroke-width="0.3" text-anchor="middle" textLength="26.1" lengthAdjust="spacing">p.G143V</text>
<circle cx="227.5" cy="423.80" r="3.15" fill="#6fa658"/>
<text transform="translate(229.35,443.40) rotate(-90)" font-size="7.0" fill="#231f20" stroke="#231f20" stroke-width="0.3" text-anchor="middle" textLength="25.1" lengthAdjust="spacing">p.L145F</text>
<circle cx="237.0" cy="423.80" r="3.15" fill="#6fa658"/>
<text transform="translate(238.45,443.85) rotate(-90)" font-size="7.0" fill="#231f20" stroke="#231f20" stroke-width="0.3" text-anchor="middle" textLength="26.0" lengthAdjust="spacing">p.I173M</text>
<circle cx="246.8" cy="423.80" r="3.15" fill="#6fa658"/>
<text transform="translate(247.75,444.20) rotate(-90)" font-size="7.0" fill="#231f20" stroke="#231f20" stroke-width="0.3" text-anchor="middle" textLength="22.7" lengthAdjust="spacing">p.I175R</text>
<circle cx="257.2" cy="423.80" r="3.15" fill="#6fa658"/>
<text transform="translate(258.25,444.05) rotate(-90)" font-size="7.0" fill="#231f20" stroke="#231f20" stroke-width="0.3" text-anchor="middle" textLength="23.0" lengthAdjust="spacing">p.I186S</text>
<circle cx="268.4" cy="423.80" r="3.15" fill="#6fa658"/>
<text transform="translate(269.95,442.65) rotate(-90)" font-size="7.0" fill="#231f20" stroke="#231f20" stroke-width="0.3" text-anchor="middle" textLength="25.8" lengthAdjust="spacing">p.S205T</text>
<circle cx="280.6" cy="423.80" r="3.15" fill="#6fa658"/>
<text transform="translate(282.45,442.90) rotate(-90)" font-size="7.0" fill="#231f20" stroke="#231f20" stroke-width="0.3" text-anchor="middle" textLength="26.1" lengthAdjust="spacing">p.S206L</text>
<circle cx="294.4" cy="423.80" r="3.15" fill="#6fa658"/>
<text transform="translate(296.05,443.35) rotate(-90)" font-size="7.0" fill="#231f20" stroke="#231f20" stroke-width="0.3" text-anchor="middle" textLength="27.0" lengthAdjust="spacing">p.A207P</text>
<circle cx="323.1" cy="423.80" r="3.15" fill="#6fa658"/>
<text transform="translate(325.85,443.80) rotate(-90)" font-size="7.0" fill="#231f20" stroke="#231f20" stroke-width="0.3" text-anchor="middle" textLength="24.3" lengthAdjust="spacing">p.I331N</text>
<circle cx="366.9" cy="423.80" r="3.15" fill="#6fa658"/>
<text transform="translate(369.45,443.60) rotate(-90)" font-size="7.0" fill="#231f20" stroke="#231f20" stroke-width="0.3" text-anchor="middle" textLength="24.7" lengthAdjust="spacing">p.S390L</text>
<circle cx="410.6" cy="423.80" r="3.15" fill="#6fa658"/>
<text transform="translate(412.55,443.30) rotate(-90)" font-size="7.0" fill="#231f20" stroke="#231f20" stroke-width="0.3" text-anchor="middle" textLength="25.5" lengthAdjust="spacing">p.P519L</text>
<circle cx="422.7" cy="423.80" r="3.15" fill="#6fa658"/>
<text transform="translate(424.55,442.80) rotate(-90)" font-size="7.0" fill="#231f20" stroke="#231f20" stroke-width="0.3" text-anchor="middle" textLength="26.5" lengthAdjust="spacing">p.R537H</text>
<line x1="456.70" y1="423.80" x2="456.70" y2="431.05" stroke="#888" stroke-width="0.5"/>
<circle cx="456.7" cy="423.80" r="3.15" fill="#6fa658"/>
<circle cx="456.7" cy="431.05" r="3.15" fill="#6fa658"/>
<text transform="translate(458.65,448.55) rotate(-90)" font-size="7.0" fill="#231f20" stroke="#231f20" stroke-width="0.3" text-anchor="middle" textLength="26.4" lengthAdjust="spacing">p.G586S</text>
<circle cx="472.1" cy="423.80" r="3.15" fill="#6fa658"/>
<text transform="translate(473.95,442.30) rotate(-90)" font-size="7.0" fill="#231f20" stroke="#231f20" stroke-width="0.3" text-anchor="middle" textLength="27.5" lengthAdjust="spacing">p.G588D</text>
<circle cx="484.6" cy="423.80" r="3.15" fill="#6fa658"/>
<text transform="translate(486.55,443.30) rotate(-90)" font-size="7.0" fill="#231f20" stroke="#231f20" stroke-width="0.3" text-anchor="middle" textLength="25.5" lengthAdjust="spacing">p.T627I</text>
<text transform="translate(316.60,284.50)" font-size="7.0" fill="#231f20" stroke="#231f20" stroke-width="0.18" text-anchor="start" font-weight="normal">Key</text>
<line x1="316.60" y1="285.60" x2="327.40" y2="285.60" stroke="#999" stroke-width="0.4"/>
<rect x="316.5" y="289.80" width="5.9" height="9.8" rx="0.8" fill="#d2cdcd" stroke="#333" stroke-width="0.9"/>
<text x="326.8" y="296.90" font-size="7.0" fill="#231f20" stroke="#231f20" stroke-width="0.18" textLength="44.0" lengthAdjust="spacingAndGlyphs">FOXO1 protein</text>
<rect x="316.5" y="303.20" width="5.9" height="9.8" rx="0.8" fill="#c2cda6" stroke="#333" stroke-width="0.9"/>
<text x="326.8" y="310.35" font-size="7.0" fill="#231f20" stroke="#231f20" stroke-width="0.18" textLength="85.0" lengthAdjust="spacingAndGlyphs">Forkhead Box (DNA Binding)</text>
<rect x="316.5" y="316.60" width="5.9" height="9.8" rx="0.8" fill="#9aa0bc" stroke="#333" stroke-width="0.9"/>
<text x="326.8" y="323.80" font-size="7.0" fill="#231f20" stroke="#231f20" stroke-width="0.18" textLength="89.1" lengthAdjust="spacingAndGlyphs">Transactivation Domain (TAD)</text>
<rect x="0.5" y="0.5" width="519" height="506" fill="none" stroke="#5e5e5e" stroke-width="1"/>
</svg>
</body></html>
